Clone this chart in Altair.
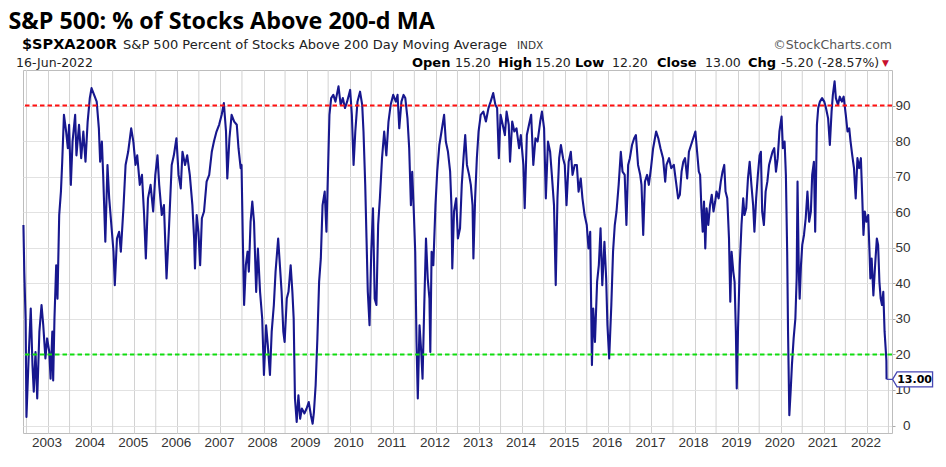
import altair as alt
import pandas as pd

# ---- series: decimal year, % of S&P 500 stocks above 200-d MA ----
yr_a = [2002.43, 2002.45, 2002.48, 2002.50, 2002.55, 2002.60, 2002.64, 2002.67, 2002.71, 2002.75,
        2002.80, 2002.85, 2002.89, 2002.94, 2002.98, 2003.03, 2003.06, 2003.10, 2003.12, 2003.15,
        2003.19, 2003.22, 2003.26, 2003.30, 2003.33, 2003.37, 2003.42, 2003.46, 2003.49, 2003.53,
        2003.57, 2003.63, 2003.66, 2003.72, 2003.77, 2003.82, 2003.87, 2003.92, 2003.97, 2004.01,
        2004.07, 2004.13, 2004.18, 2004.21, 2004.25, 2004.28, 2004.33, 2004.38, 2004.42, 2004.47,
        2004.52, 2004.55, 2004.60, 2004.65, 2004.69, 2004.75, 2004.80, 2004.86, 2004.93, 2004.98,
        2005.03, 2005.07, 2005.13, 2005.18, 2005.23, 2005.27, 2005.32, 2005.38, 2005.44, 2005.49,
        2005.54, 2005.58, 2005.64, 2005.69, 2005.75, 2005.81, 2005.87, 2005.92, 2005.98, 2006.03,
        2006.08, 2006.12, 2006.18, 2006.23, 2006.29, 2006.35, 2006.39, 2006.41, 2006.45, 2006.49,
        2006.53, 2006.57, 2006.62, 2006.68, 2006.74, 2006.80, 2006.85, 2006.91, 2006.97, 2007.03,
        2007.08, 2007.13, 2007.16, 2007.21, 2007.26, 2007.32, 2007.38, 2007.42, 2007.47]
pct_a = [56.4, 43.3, 30.1, 2.4, 18.9, 32.9, 17.0, 9.5, 20.7, 7.6,
         26.4, 33.9, 28.2, 18.9, 24.5, 20.7, 13.2, 26.4, 12.7, 30.1,
         45.1, 35.7, 59.2, 65.8, 74.2, 87.4, 82.7, 78.0, 84.6, 67.7,
         79.9, 87.4, 76.0, 84.6, 75.2, 82.7, 74.2, 85.5, 92.1, 94.9,
         93.0, 91.1, 83.6, 74.2, 79.9, 70.5, 51.7, 73.3, 63.9, 56.4,
         48.9, 39.5, 52.6, 54.5, 48.9, 61.1, 73.3, 77.0, 83.6, 79.9,
         73.3, 76.0, 67.7, 70.5, 59.2, 47.0, 63.9, 67.7, 60.2, 70.5,
         76.0, 67.7, 59.2, 62.0, 41.4, 56.4, 73.3, 76.0, 80.8, 70.5,
         66.7, 77.0, 73.3, 76.0, 70.5, 62.0, 52.6, 44.2, 59.2, 54.5,
         45.1, 58.3, 60.2, 68.6, 70.5, 77.0, 79.9, 82.7, 84.6, 87.4,
         90.7, 82.7, 69.5, 80.8, 87.4, 85.5, 84.6, 78.0, 72.4]

yr_b = [2007.49, 2007.52, 2007.55, 2007.59, 2007.63, 2007.66, 2007.70, 2007.74, 2007.78, 2007.83,
        2007.87, 2007.92, 2007.97, 2008.01, 2008.06, 2008.10, 2008.15, 2008.19, 2008.24, 2008.28,
        2008.34, 2008.38, 2008.42, 2008.46, 2008.49, 2008.54, 2008.58, 2008.63, 2008.67, 2008.70,
        2008.73, 2008.77, 2008.81, 2008.85, 2008.89, 2008.95, 2009.00, 2009.05, 2009.10, 2009.14,
        2009.17, 2009.21, 2009.25, 2009.29, 2009.33, 2009.37, 2009.42, 2009.46, 2009.50, 2009.53,
        2009.57, 2009.62, 2009.67, 2009.74, 2009.79, 2009.84, 2009.89, 2009.94, 2010.01, 2010.05,
        2010.09, 2010.13, 2010.18, 2010.24, 2010.29, 2010.32, 2010.36, 2010.39, 2010.42, 2010.46,
        2010.50, 2010.54, 2010.58, 2010.62, 2010.66, 2010.70, 2010.75, 2010.80, 2010.85, 2010.90,
        2010.95, 2011.01, 2011.07, 2011.11, 2011.15, 2011.20, 2011.25, 2011.29, 2011.34, 2011.38,
        2011.42, 2011.45, 2011.49, 2011.52, 2011.55, 2011.58, 2011.62, 2011.66, 2011.69, 2011.73,
        2011.77, 2011.81, 2011.85, 2011.87, 2011.90, 2011.94, 2011.99, 2012.03, 2012.08, 2012.13,
        2012.19, 2012.23, 2012.28, 2012.33, 2012.36, 2012.38, 2012.42, 2012.47, 2012.51]
pct_b = [73.3, 52.6, 33.9, 45.1, 48.9, 43.3, 57.3, 63.0, 57.3, 37.6,
         49.8, 37.6, 30.1, 14.2, 28.2, 22.6, 14.2, 26.4, 33.9, 43.3,
         52.6, 45.1, 37.6, 26.4, 23.5, 35.7, 37.6, 45.1, 37.6, 30.1,
         7.6, 1.0, 8.5, 1.9, 4.8, 3.4, 4.8, 6.6, 2.9, 0.5,
         3.8, 11.4, 24.5, 40.4, 47.0, 62.0, 65.8, 54.5, 73.3, 87.4,
         92.1, 93.0, 91.1, 95.4, 90.2, 92.1, 89.3, 91.1, 94.4, 87.4,
         73.3, 82.7, 91.1, 93.9, 90.2, 82.7, 67.7, 52.6, 37.6, 28.2,
         48.9, 61.1, 35.7, 33.9, 56.4, 63.9, 75.2, 82.7, 76.0, 85.5,
         90.2, 93.0, 91.1, 93.0, 83.6, 91.1, 93.0, 92.1, 86.4, 78.0,
         62.0, 71.4, 59.2, 48.9, 23.5, 7.6, 28.2, 20.7, 13.2, 33.9,
         52.6, 41.4, 35.7, 20.7, 48.9, 45.1, 62.0, 71.4, 78.9, 82.7,
         87.4, 79.9, 77.0, 71.4, 62.0, 44.2, 60.2, 63.9, 52.6]

yr_c = [2012.56, 2012.60, 2012.64, 2012.68, 2012.72, 2012.77, 2012.81, 2012.85, 2012.87, 2012.91,
        2012.95, 2012.99, 2013.04, 2013.10, 2013.16, 2013.22, 2013.27, 2013.33, 2013.38, 2013.42,
        2013.46, 2013.50, 2013.55, 2013.60, 2013.64, 2013.69, 2013.72, 2013.77, 2013.82, 2013.87,
        2013.93, 2013.97, 2014.03, 2014.06, 2014.11, 2014.16, 2014.21, 2014.26, 2014.31, 2014.36,
        2014.42, 2014.46, 2014.51, 2014.55, 2014.60, 2014.65, 2014.69, 2014.74, 2014.78, 2014.82,
        2014.86, 2014.90, 2014.95, 2014.99, 2015.03, 2015.08, 2015.13, 2015.17, 2015.22, 2015.27,
        2015.31, 2015.36, 2015.40, 2015.45, 2015.50, 2015.54, 2015.58, 2015.62, 2015.65, 2015.69,
        2015.74, 2015.78, 2015.82, 2015.86, 2015.91, 2015.95, 2015.98, 2016.02, 2016.07, 2016.11,
        2016.15, 2016.19, 2016.24, 2016.29, 2016.33, 2016.38, 2016.42, 2016.46, 2016.50, 2016.55,
        2016.60, 2016.64, 2016.69, 2016.74, 2016.77, 2016.81, 2016.85, 2016.90, 2016.94, 2016.99,
        2017.04, 2017.11, 2017.16, 2017.21, 2017.27, 2017.32, 2017.35, 2017.41, 2017.46, 2017.52,
        2017.57, 2017.62]
pct_c = [55.5, 67.7, 75.2, 81.7, 73.3, 70.5, 67.7, 62.0, 47.0, 63.9,
         75.2, 82.7, 87.4, 88.3, 85.5, 89.3, 91.1, 93.5, 90.2, 89.3,
         75.2, 87.4, 84.6, 81.7, 88.3, 84.6, 74.2, 85.5, 82.7, 83.6,
         78.0, 81.7, 73.3, 61.1, 81.7, 84.6, 87.4, 73.3, 80.8, 79.9,
         85.5, 88.3, 83.6, 63.9, 79.9, 77.0, 70.5, 62.0, 39.5, 63.9,
         75.2, 78.9, 75.2, 73.3, 62.0, 74.2, 77.0, 70.5, 73.3, 73.3,
         65.8, 69.5, 63.9, 59.2, 56.4, 49.8, 54.5, 17.0, 32.9, 23.5,
         40.4, 45.1, 55.5, 39.5, 51.7, 41.4, 28.2, 18.9, 33.9, 48.9,
         56.4, 60.2, 67.7, 77.0, 71.4, 70.5, 56.4, 73.3, 75.2, 78.9,
         80.8, 81.7, 73.3, 70.5, 67.7, 53.6, 68.6, 70.5, 67.7, 72.4,
         78.0, 82.7, 80.8, 78.0, 75.2, 68.6, 73.3, 75.2, 72.4, 73.3,
         68.6, 63.9]

yr_d = [2017.66, 2017.70, 2017.74, 2017.78, 2017.83, 2017.87, 2017.92, 2017.97, 2018.02, 2018.06,
        2018.10, 2018.13, 2018.16, 2018.19, 2018.22, 2018.25, 2018.28, 2018.32, 2018.36, 2018.40,
        2018.44, 2018.48, 2018.51, 2018.56, 2018.61, 2018.65, 2018.69, 2018.72, 2018.76, 2018.80,
        2018.83, 2018.86, 2018.90, 2018.93, 2018.96, 2018.98, 2019.01, 2019.05, 2019.09, 2019.13,
        2019.16, 2019.20, 2019.24, 2019.28, 2019.32, 2019.36, 2019.39, 2019.43, 2019.47, 2019.51,
        2019.54, 2019.57, 2019.61, 2019.65, 2019.69, 2019.73, 2019.77, 2019.81, 2019.85, 2019.89,
        2019.93, 2019.97, 2020.02, 2020.05, 2020.09, 2020.12, 2020.15, 2020.17, 2020.20, 2020.23,
        2020.26, 2020.30, 2020.34, 2020.37, 2020.39, 2020.42, 2020.44, 2020.47, 2020.50, 2020.54,
        2020.58, 2020.62, 2020.66, 2020.70, 2020.73, 2020.77, 2020.80, 2020.84, 2020.87, 2020.91,
        2020.96, 2021.01, 2021.05, 2021.10, 2021.14, 2021.18, 2021.21, 2021.25, 2021.28, 2021.33,
        2021.37, 2021.42, 2021.46, 2021.51, 2021.55, 2021.59, 2021.62, 2021.66, 2021.70, 2021.74,
        2021.78, 2021.82, 2021.86, 2021.89, 2021.92, 2021.95, 2021.99, 2022.03, 2022.06, 2022.08,
        2022.11, 2022.15, 2022.19, 2022.23, 2022.26, 2022.29, 2022.32, 2022.35, 2022.38, 2022.41,
        2022.44, 2022.452, 2022.456]
pct_d = [64.9, 71.4, 74.2, 75.2, 69.5, 77.0, 78.9, 80.8, 82.7, 77.0,
         71.4, 70.5, 61.1, 54.5, 63.0, 49.8, 61.1, 56.4, 62.0, 64.9,
         60.2, 63.0, 65.8, 63.9, 68.6, 71.4, 73.3, 65.8, 63.9, 52.6,
         34.8, 48.9, 43.3, 40.4, 26.4, 10.4, 27.3, 45.1, 56.4, 63.9,
         59.2, 61.1, 69.5, 74.2, 67.7, 62.0, 54.5, 63.9, 70.5, 76.0,
         77.0, 60.2, 56.4, 65.8, 68.6, 73.3, 75.2, 77.0, 78.0, 71.4,
         75.2, 82.7, 86.9, 78.0, 79.9, 70.5, 48.9, 26.4, 2.9, 9.5,
         17.0, 24.5, 30.1, 41.4, 68.6, 43.3, 35.7, 45.1, 50.8, 53.6,
         58.3, 65.8, 57.3, 60.2, 70.5, 74.2, 54.5, 84.6, 89.3, 91.1,
         92.1, 91.1, 89.3, 86.4, 78.9, 88.3, 93.0, 96.8, 92.1, 90.2,
         92.5, 91.1, 92.5, 87.4, 82.7, 83.6, 79.9, 76.0, 72.4, 63.9,
         75.2, 72.4, 75.2, 64.9, 53.6, 60.2, 57.3, 59.2, 48.9, 41.4,
         47.0, 36.6, 45.1, 52.6, 50.8, 40.4, 35.7, 33.9, 37.6, 26.4,
         20.7, 18.2, 13.0]

levels = [90, 20]
level_colors = ["#ff1010", "#10dd10"]
year_ticks = list(range(2003, 2023))                       # labelled January gridlines
mid_year_lines = [y + 0.5 for y in range(2002, 2023)]      # July gridlines
y_ticks = list(range(0, 100, 5))
last_close = "13.00"

series = pd.DataFrame({"year": yr_a + yr_b + yr_c + yr_d,
                       "pct": pct_a + pct_b + pct_c + pct_d})
last = series.tail(1).assign(label=last_close)
lev = pd.DataFrame({"level": levels, "color": level_colors})
mids = pd.DataFrame({"year": mid_year_lines})

X0, Y0 = 23, 70  # page position of the plot origin
GRID_V = "#d2d2d2"


def txt(s, px, py, size=13, bold=False, color="#000000", font="DejaVu Sans", align="left"):
    return alt.Chart(pd.DataFrame({"t": [s]})).mark_text(
        align=align, baseline="alphabetic", font=font, fontSize=size,
        fontWeight="bold" if bold else "normal", color=color
    ).encode(text="t:N", x=alt.value(px - X0), y=alt.value(py - Y0))


xs = alt.Scale(domain=[2002.42, 2022.582], nice=False, zero=False)
ys = alt.Scale(domain=[-2.1, 100], nice=False, zero=False)

mid_grid = alt.Chart(mids).mark_rule(color=GRID_V, strokeWidth=1).encode(
    x=alt.X("year:Q", scale=xs))

line = alt.Chart(series).mark_line(color="#17178e", strokeWidth=2.1, strokeJoin="round").encode(
    x=alt.X("year:Q", scale=xs, axis=alt.Axis(
        values=year_ticks, format="d", title=None,
        grid=True, gridColor=GRID_V, gridWidth=1, domain=False, ticks=False,
        labelFont="Liberation Sans", labelFontSize=13.5, labelColor="#333333", labelPadding=2,
        labelOffset=-1.5, labelOverlap=False, labelFlush=False, labelBound=False)),
    y=alt.Y("pct:Q", scale=ys, axis=alt.Axis(
        orient="right", values=y_ticks, title=None, grid=True, gridColor="#e2e2e2", gridWidth=1,
        domain=False, ticks=True, tickSize=3, tickColor="#aaaaaa", labelAlign="right",
        labelPadding=15, labelFont="Liberation Sans", labelFontSize=13.5, labelColor="#333333",
        labelOverlap=False, labelFlush=False, labelBound=False)),
)

rules = alt.Chart(lev).mark_rule(strokeDash=[4.5, 3], strokeWidth=2).encode(
    y="level:Q", color=alt.Color("color:N", scale=None))

box = alt.Chart(last).mark_point(
    shape="M0,0 L0.6,0 M0.6,0 L1.05,-0.75 L4.6,-0.75 L4.6,0.75 L1.05,0.75 Z",
    size=400, filled=True, fill="white", stroke="#4646b4", strokeWidth=1.3, opacity=1
).encode(x="year:Q", y="pct:Q")

box_txt = alt.Chart(last).mark_text(
    align="center", baseline="middle", dx=28, dy=0.5, font="DejaVu Sans", fontSize=11,
    fontWeight="bold", color="#000000"
).encode(x="year:Q", y="pct:Q", text="label:N")

header = [
    txt("S&P 500: % of Stocks Above 200-d MA", 8.5, 28.5, size=23.3, bold=True, font="Open Sans"),
    txt("$SPXA200R", 22, 49, size=14.5, bold=True),
    txt("S&P 500 Percent of Stocks Above 200 Day Moving Average", 123, 49, size=13, color="#222222"),
    txt("INDX", 517, 49, size=10.5, color="#333333"),
    txt("©StockCharts.com", 892, 49, size=12.5, color="#555555", align="right"),
    txt("16-Jun-2022", 16, 67, size=12.5, color="#222222"),
    txt("Open", 412, 67, size=13, bold=True),
    txt("15.20", 455, 67, size=12.5, color="#222222"),
    txt("High", 498, 67, size=13, bold=True),
    txt("15.20", 535, 67, size=12.5, color="#222222"),
    txt("Low", 575, 67, size=13, bold=True),
    txt("12.20", 612, 67, size=12.5, color="#222222"),
    txt("Close", 657, 67, size=13, bold=True),
    txt("13.00", 705, 67, size=12.5, color="#222222"),
    txt("Chg", 748, 67, size=13, bold=True),
    txt("-5.20 (-28.57%)", 781, 67, size=12.5, color="#222222"),
    txt("▼", 882, 66, size=9, color="#c8102e"),
]

chart = alt.layer(mid_grid, line, rules, box, box_txt, *header).properties(
    width=869, height=363,
    autosize=alt.AutoSizeParams(type="none"),
    padding={"left": 15, "top": 62, "right": 45, "bottom": 20},
    background="white",
).configure_view(stroke="#bdbdbd", strokeWidth=1)

chart.save("out.html", embed_options={"renderer": "svg", "actions": False})
